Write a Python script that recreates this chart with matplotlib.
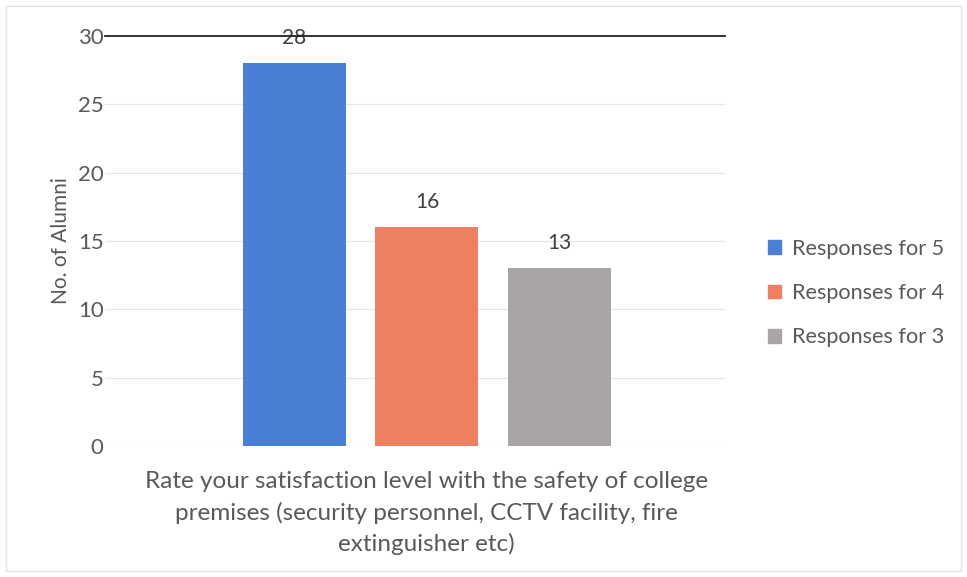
import matplotlib
matplotlib.use("Agg")
import matplotlib.pyplot as plt
from matplotlib.patches import Rectangle, Patch

series = ["Responses for 5", "Responses for 4", "Responses for 3"]
values = [28, 16, 13]
colors = ["#4a7fd4", "#ee7f62", "#a9a5a7"]
yticks = [0, 5, 10, 15, 20, 25, 30]
xlabel = "Rate your satisfaction level with the safety of college\npremises (security personnel, CCTV facility, fire\nextinguisher etc)"
ylabel = "No. of Alumni"

plt.rcParams['font.family'] = ['Lato', 'DejaVu Sans']
fig = plt.figure(figsize=(9.67, 5.77), dpi=100)
fig.patches.append(Rectangle((0.006, 0.010), 0.988, 0.980, transform=fig.transFigure,
                             fill=False, edgecolor="#e3e3e3", lw=1.0))
ax = fig.add_axes([0.1086, 0.2270, 0.6411, 0.7106])

xs = list(range(len(values)))
ax.bar(xs, values, width=0.777, color=colors, zorder=2)
for x, v in zip(xs, values):
    ax.annotate(str(v), (x, v), xytext=(0, 18.5), textcoords="offset points",
                ha="center", va="center", fontsize=15, color="#404040", zorder=1)

ax.set_xlim(-1.43, 3.25)
ax.set_ylim(0, 30)
ax.set_yticks(yticks)
ax.tick_params(axis="y", length=0, labelsize=16, labelcolor="#595959", pad=1)
ax.tick_params(axis="x", length=0, labelbottom=False)
for y in yticks[:-1]:
    ax.axhline(y, color="#e6e6e6", lw=0.9, zorder=0)
ax.axhline(30, color="#222222", lw=1.3, zorder=3, clip_on=False)
for s in ax.spines.values():
    s.set_visible(False)

ax.set_ylabel(ylabel, fontsize=15, color="#595959")
ax.yaxis.set_label_coords(-0.055, 0.5)
ax.set_xlabel(xlabel, fontsize=17.5, color="#595959", linespacing=1.5, va="top")
ax.xaxis.set_label_coords(0.519, -0.062)

handles = [Patch(color=c, label=s) for c, s in zip(colors, series)]
fig.legend(handles=handles, loc="center left", bbox_to_anchor=(0.774, 0.492),
           frameon=False, fontsize=15.6, labelcolor="#595959",
           handlelength=0.6, handleheight=0.6, handletextpad=0.5, labelspacing=1.12)

fig.savefig("out.png", dpi=100, facecolor="white")
